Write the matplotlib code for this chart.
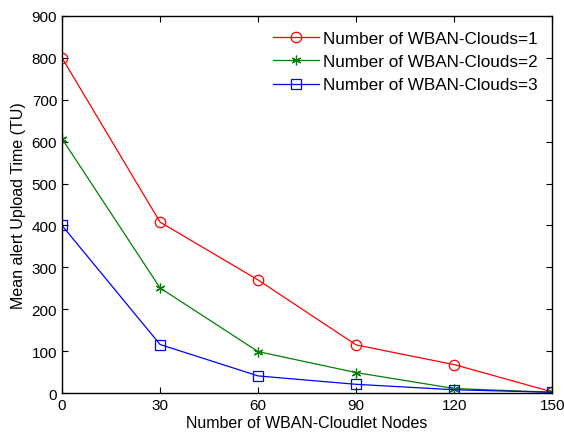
import matplotlib
matplotlib.use('Agg')
import matplotlib.pyplot as plt

plt.rcParams['font.family'] = ['Liberation Sans', 'DejaVu Sans']

nodes = [0, 30, 60, 90, 120, 150]
clouds_1 = [800, 408, 270, 115, 68, 3]
clouds_2 = [607, 251, 99, 49, 11, 2]
clouds_3 = [400, 116, 41, 21, 8, 2]
labels = ['Number of WBAN-Clouds=1', 'Number of WBAN-Clouds=2', 'Number of WBAN-Clouds=3']

fig = plt.figure(figsize=(5.64, 4.35), dpi=100)
ax = fig.add_axes([0.11, 0.094, 0.869, 0.867])

ax.plot(nodes, clouds_1, color='red', lw=0.9, marker='o', ms=7.5, mfc='none', mew=0.9, label=labels[0])
ax.plot(nodes, clouds_2, color='green', lw=0.9, marker=(6, 2, 0), ms=7, mew=0.9, label=labels[1])
ax.plot(nodes, clouds_3, color='blue', lw=0.9, marker='s', ms=7.5, mfc='none', mew=0.9, label=labels[2])

ax.set_xlim(0, 150)
ax.set_ylim(0, 900)
ax.set_xticks(nodes)
ax.set_yticks(range(0, 901, 100))
ax.tick_params(direction='in', top=True, right=True, labelsize=11, length=4, width=0.8)
for s in ax.spines.values():
    s.set_linewidth(1.0)

ax.set_xlabel('Number of WBAN-Cloudlet Nodes', fontsize=11.5, labelpad=2)
ax.set_ylabel('Mean alert Upload Time (TU)', fontsize=11.5, labelpad=4)

ax.legend(loc='upper right', bbox_to_anchor=(0.984, 0.978), frameon=False, fontsize=12.3,
          handlelength=2.7, handletextpad=0.23, labelspacing=0.48, borderaxespad=0)

fig.savefig('out.png', dpi=100)
